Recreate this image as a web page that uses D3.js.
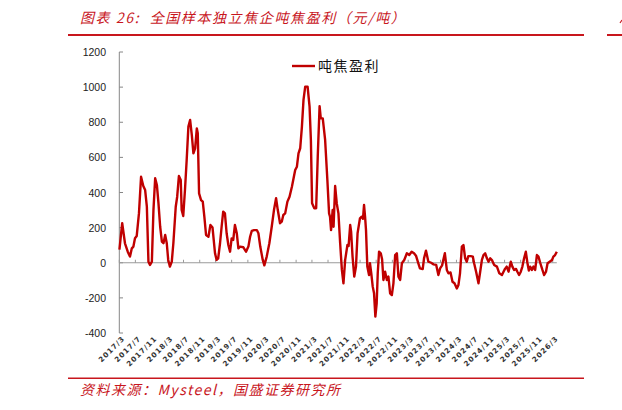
<!DOCTYPE html>
<html>
<head>
<meta charset="utf-8">
<title>吨焦盈利</title>
<script src="https://d3js.org/d3.v7.min.js" charset="utf-8"></script>
<style>
*{
	margin: 0;
	padding: 0;
}
body{
	background: #fff;
}
</style>
</head>
<body>
<script>

	// 读图得到的周度吨焦盈利（元/吨）
	var dates = [
		"2017-03-02","2017-03-23","2017-04-13","2017-05-04","2017-05-21","2017-06-04","2017-06-16","2017-06-28",
		"2017-07-11","2017-07-28","2017-08-13","2017-08-30","2017-09-13","2017-09-26","2017-10-08","2017-10-20",
		"2017-11-03","2017-11-15","2017-11-28","2017-12-11","2017-12-23","2018-01-05","2018-01-18","2018-01-30",
		"2018-02-12","2018-02-24","2018-03-07","2018-03-20","2018-04-03","2018-04-15","2018-05-03","2018-05-14",
		"2018-05-27","2018-06-10","2018-06-17","2018-06-29","2018-07-12","2018-07-25","2018-08-07","2018-08-20",
		"2018-09-02","2018-09-14","2018-09-27","2018-10-10","2018-10-17","2018-10-27","2018-11-11","2018-11-24",
		"2018-12-06","2018-12-19","2019-01-06","2019-01-21","2019-02-06","2019-02-25","2019-03-09","2019-03-21",
		"2019-04-04","2019-04-16","2019-04-28","2019-05-11","2019-05-24","2019-06-06","2019-06-19","2019-07-01",
		"2019-07-13","2019-07-26","2019-08-09","2019-08-21","2019-09-03","2019-09-28","2019-10-18","2019-11-05",
		"2019-11-18","2019-12-01","2019-12-18","2020-01-08","2020-01-20","2020-02-03","2020-02-22","2020-03-05",
		"2020-03-23","2020-04-12","2020-04-30","2020-05-17","2020-06-02","2020-06-15","2020-07-02","2020-07-15",
		"2020-07-27","2020-08-10","2020-08-27","2020-09-12","2020-09-30","2020-10-25","2020-11-07","2020-11-19",
		"2020-12-02","2020-12-15","2020-12-27","2021-01-09","2021-01-27","2021-02-11","2021-02-21","2021-03-02",
		"2021-03-19","2021-04-02","2021-04-14","2021-04-28","2021-05-07","2021-05-22","2021-06-09","2021-06-26",
		"2021-07-09","2021-07-16","2021-07-24","2021-08-05","2021-08-12","2021-08-24","2021-09-05","2021-09-18",
		"2021-10-01","2021-10-14","2021-10-26","2021-11-08","2021-11-25","2021-12-04","2021-12-16","2021-12-23",
		"2022-01-03","2022-01-16","2022-01-29","2022-02-10","2022-02-28","2022-03-13","2022-03-23","2022-03-31",
		"2022-04-08","2022-04-15","2022-04-25","2022-05-08","2022-05-15","2022-05-25","2022-06-05","2022-06-15",
		"2022-06-25","2022-07-05","2022-07-13","2022-07-23","2022-08-05","2022-08-15","2022-08-25","2022-09-07",
		"2022-09-20","2022-10-02","2022-10-15","2022-10-28","2022-11-09","2022-11-22","2022-12-05","2022-12-17",
		"2022-12-30","2023-01-12","2023-01-30","2023-02-19","2023-03-09","2023-03-27","2023-04-14","2023-04-29",
		"2023-05-17","2023-05-29","2023-06-19","2023-06-29","2023-07-14","2023-08-01","2023-08-22","2023-09-08",
		"2023-09-29","2023-10-16","2023-10-29","2023-11-13","2023-12-04","2023-12-19","2023-12-31","2024-01-16",
		"2024-01-31","2024-02-15","2024-03-04","2024-03-16","2024-03-28","2024-04-11","2024-04-23","2024-05-06",
		"2024-05-18","2024-05-30","2024-06-17","2024-07-03","2024-07-13","2024-07-28","2024-08-15","2024-08-28",
		"2024-09-10","2024-09-22","2024-10-05","2024-10-18","2024-10-30","2024-11-12","2024-11-25","2024-12-12",
		"2025-01-02","2025-01-20","2025-02-09","2025-02-21","2025-03-04","2025-03-17","2025-03-31","2025-04-17",
		"2025-04-29","2025-05-12","2025-05-27","2025-06-06","2025-06-19","2025-07-02","2025-07-14","2025-07-27",
		"2025-08-09","2025-08-21","2025-09-01","2025-09-11","2025-09-24","2025-10-06","2025-10-19","2025-11-01",
		"2025-11-13","2025-11-26","2025-12-13","2025-12-26","2026-01-09","2026-01-21","2026-02-06","2026-02-24",
		"2026-03-06","2026-03-19","2026-04-01"
	];

	var profit = [
		75,225,111,63,35,82,92,139,
		152,281,490,437,414,319,6,-13,
		6,300,481,443,339,205,120,111,
		158,111,16,-22,6,111,319,376,
		494,471,300,266,414,585,775,813,
		727,623,652,765,737,395,357,348,
		262,158,148,215,200,54,16,25,
		111,205,291,281,168,101,63,139,
		130,215,168,82,92,88,63,92,
		148,182,186,186,168,92,16,-15,
		35,111,205,300,367,300,225,234,
		272,281,348,376,433,528,547,623,
		652,775,927,1003,1003,889,699,339,
		310,310,604,892,822,822,699,471,
		281,262,186,300,205,437,339,281,
		111,-41,-117,16,101,95,215,177,
		35,-79,-22,168,253,262,250,329,
		262,186,-22,-70,-3,-60,-136,-174,
		-307,-231,-60,63,54,20,-98,-51,
		-98,-79,-174,-184,-117,44,54,-79,
		-98,-3,16,54,44,63,54,40,
		-3,-32,-36,25,69,6,0,-9,
		-12,-70,-32,-15,54,-41,-60,-55,
		-108,-117,-146,-127,-60,92,101,25,
		6,38,38,35,-3,-51,-117,-51,
		16,44,54,25,6,25,15,-13,
		-22,-60,-70,-51,-35,-22,-51,6,
		-22,-41,-35,-51,-70,-51,-22,25,
		63,0,-45,-22,-41,-22,-41,44,
		35,0,-41,-70,-51,-3,6,16,
		35,44,63
	];

	var tickLabels = [
		"2017/3","2017/7","2017/11","2018/3","2018/7","2018/11","2019/3","2019/7","2019/11",
		"2020/3","2020/7","2020/11","2021/3","2021/7","2021/11","2022/3","2022/7","2022/11",
		"2023/3","2023/7","2023/11","2024/3","2024/7","2024/11","2025/3","2025/7","2025/11","2026/3"
	];

	var yTicks = [-400,-200,0,200,400,600,800,1000,1200];

	var seriesName = "吨焦盈利";
	var title = "图表 26:  全国样本独立焦企吨焦盈利（元/吨）";
	var source = "资料来源：Mysteel，国盛证券研究所";

	var width = 622;
	var height = 410;
	var red = "#c00000";
	var cnFont = "'Noto Sans CJK SC', 'Noto Sans', sans-serif";

	var parseDay = d3.timeParse("%Y-%m-%d");
	var parseTick = d3.timeParse("%Y/%m");

	var data = dates.map(function(d, i){ return {date: parseDay(d), value: profit[i]}; });

	var svg = d3.select("body")
				.append("svg")
				.attr("width", width)
				.attr("height", height);

	// 比例尺
	var x = d3.scaleTime()
		.domain([parseDay("2017-03-01"), parseDay("2026-04-01")])
		.range([119.3, 556.8]);

	var y = d3.scaleLinear()
		.domain([-400, 1200])
		.range([333, 52]);

	// 标题与分隔线
	svg.append("text")
		.attr("x", 80)
		.attr("y", 23)
		.attr("fill", "#c8161d")
		.attr("font-family", cnFont)
		.attr("font-size", 14)
		.attr("font-style", "italic")
		.attr("letter-spacing", 1.6)
		.style("white-space", "pre")
		.text(title);

	// 右上角下一张图标题的残笔
	svg.append("line")
		.attr("x1", 620).attr("x2", 622)
		.attr("y1", 23).attr("y2", 20)
		.attr("stroke", "#c8161d")
		.attr("stroke-width", 1.2);

	svg.append("line")
		.attr("x1", 68).attr("x2", 584)
		.attr("y1", 35).attr("y2", 35)
		.attr("stroke", "#c8161d")
		.attr("stroke-width", 2);

	svg.append("line")
		.attr("x1", 607).attr("x2", 622)
		.attr("y1", 35).attr("y2", 35)
		.attr("stroke", "#c8161d")
		.attr("stroke-width", 2);

	// y 轴
	var yAxis = svg.append("g");

	yAxis.append("line")
		.attr("x1", 119.3).attr("x2", 119.3)
		.attr("y1", y(1200)).attr("y2", y(-400))
		.attr("stroke", "#868686")
		.attr("stroke-width", 1);

	yAxis.selectAll(".ytick").data(yTicks).enter().append("line")
		.attr("class", "ytick")
		.attr("x1", 119.3).attr("x2", 123)
		.attr("y1", (d)=>y(d)).attr("y2", (d)=>y(d))
		.attr("stroke", "#868686");

	yAxis.selectAll(".ylabel").data(yTicks).enter().append("text")
		.attr("class", "ylabel")
		.attr("x", 106)
		.attr("y", (d)=>y(d) + 4)
		.attr("text-anchor", "end")
		.attr("font-family", "'Liberation Sans', Arial, sans-serif")
		.attr("font-size", 10.5)
		.attr("fill", "#222")
		.text((d)=>d);

	// x 轴（零线）
	var tickDates = tickLabels.map(function(t){ return parseTick(t); });

	svg.append("line")
		.attr("x1", x.range()[0]).attr("x2", x.range()[1])
		.attr("y1", y(0)).attr("y2", y(0))
		.attr("stroke", "#9a9a9a")
		.attr("stroke-width", 1);

	svg.selectAll(".xtick").data(tickDates).enter().append("line")
		.attr("class", "xtick")
		.attr("x1", (d)=>x(d)).attr("x2", (d)=>x(d))
		.attr("y1", y(0)).attr("y2", y(0) - 3)
		.attr("stroke", "#9a9a9a");

	svg.selectAll(".xlabel").data(tickLabels).enter().append("text")
		.attr("class", "xlabel")
		.attr("transform", function(d, i){
			return "translate(" + (x(tickDates[i]) + 6) + "," + 339 + ") rotate(-45)";
		})
		.attr("text-anchor", "end")
		.attr("font-family", "'DejaVu Sans', sans-serif")
		.attr("font-size", 7.2)
		.attr("font-weight", "bold")
		.attr("letter-spacing", 1)
		.attr("fill", "#333")
		.text((d)=>d);

	// 折线
	var line = d3.line()
		.x((d)=>x(d.date))
		.y((d)=>y(d.value));

	svg.append("path")
		.datum(data)
		.attr("d", line)
		.attr("fill", "none")
		.attr("stroke", red)
		.attr("stroke-width", 2.4)
		.attr("stroke-linejoin", "round");

	// 图例
	svg.append("line")
		.attr("x1", 292).attr("x2", 315)
		.attr("y1", 66).attr("y2", 66)
		.attr("stroke", red)
		.attr("stroke-width", 2.4);

	svg.append("text")
		.attr("x", 318)
		.attr("y", 71)
		.attr("font-family", cnFont)
		.attr("font-size", 14)
		.attr("letter-spacing", 1.5)
		.attr("fill", "#111")
		.text(seriesName);

	// 资料来源
	svg.append("line")
		.attr("x1", 68).attr("x2", 584)
		.attr("y1", 378.3).attr("y2", 378.3)
		.attr("stroke", "#c8161d")
		.attr("stroke-width", 1.5);

	svg.append("text")
		.attr("x", 80)
		.attr("y", 395)
		.attr("fill", "#c8161d")
		.attr("font-family", cnFont)
		.attr("font-size", 14)
		.attr("font-style", "italic")
		.attr("letter-spacing", 1.5)
		.text(source);

</script>
</body>
</html>
